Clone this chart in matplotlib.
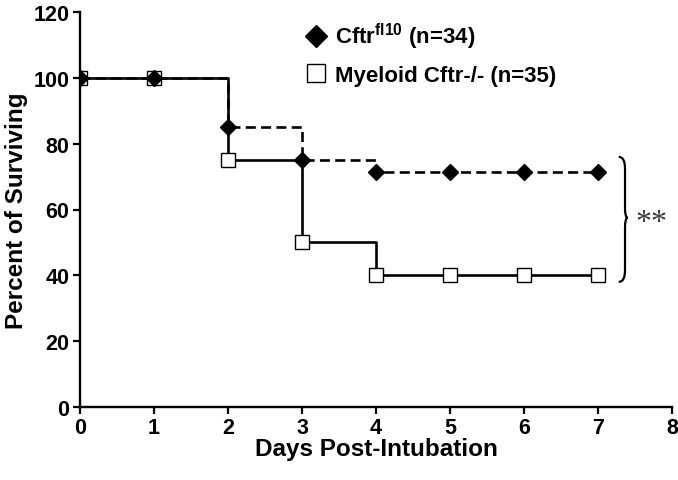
import matplotlib
matplotlib.use("Agg")
import matplotlib.pyplot as plt
from matplotlib.lines import Line2D
from matplotlib.path import Path
from matplotlib.patches import PathPatch

days = [0, 1, 2, 3, 4, 5, 6, 7]
ctrl = [100, 100, 85, 75, 71.5, 71.5, 71.5, 71.5]
myeloid = [100, 100, 75, 50, 40, 40, 40, 40]
xticks = [0, 1, 2, 3, 4, 5, 6, 7, 8]
yticks = [0, 20, 40, 60, 80, 100, 120]
label_ctrl = r'Cftr$^{\mathbf{fl10}}$ (n=34)'
label_mye = 'Myeloid Cftr-/- (n=35)'
sig_text = '**'

plt.rcParams['font.family'] = ['Liberation Sans', 'DejaVu Sans']
plt.rcParams['mathtext.fontset'] = 'custom'
plt.rcParams['mathtext.bf'] = 'Liberation Sans:bold'
plt.rcParams['mathtext.rm'] = 'Liberation Sans'

fig = plt.figure(figsize=(6.78, 4.81), dpi=100)
ax = fig.add_axes([80/678, 1-408/481, (672-80)/678, (408-13)/481])

ax.step(days, ctrl, where='post', color='black', lw=1.9, ls=(0, (3.8, 2.0)), zorder=2)
ax.step(days, myeloid, where='post', color='black', lw=1.9, ls='-', zorder=2)
ax.plot(days, myeloid, ls='none', marker='s', ms=10, mfc='white', mec='black', mew=1.0, zorder=3)
ax.plot(days, ctrl, ls='none', marker='D', ms=8.5, mfc='black', mec='black', zorder=4)

ax.set_xlim(0, 8)
ax.set_ylim(0, 120)
ax.set_xticks(xticks)
ax.set_yticks(yticks)
for s in ['top', 'right']:
    ax.spines[s].set_visible(False)
for s in ['left', 'bottom']:
    ax.spines[s].set_linewidth(1.7)
ax.tick_params(direction='out', length=5, width=1.6, labelsize=15.5, pad=2.5)
for t in ax.get_xticklabels() + ax.get_yticklabels():
    t.set_fontweight('bold')
ax.set_xlabel('Days Post-Intubation', fontsize=17.5, fontweight='bold', labelpad=-1)
ax.set_ylabel('Percent of Surviving', fontsize=17.5, fontweight='bold', labelpad=4)

handles = [
    Line2D([], [], ls='none', marker='D', ms=11, mfc='black', mec='black'),
    Line2D([], [], ls='none', marker='s', ms=12.5, mfc='white', mec='black', mew=1.0),
]
leg = ax.legend(handles, [label_ctrl, label_mye], loc='upper left',
                bbox_to_anchor=(218/592, 1.0), frameon=False,
                prop={'weight': 'bold', 'size': 16}, handlelength=0.8,
                handletextpad=0.45, labelspacing=0.62, borderaxespad=0.0)

# curly brace
x0, xm = 7.28, 7.40
y_top, y_bot = 76.0, 38.0
y_mid = 57.5
xb = x0 + 0.085
codes = [Path.MOVETO, Path.CURVE3, Path.CURVE3, Path.LINETO,
         Path.CURVE3, Path.CURVE3, Path.CURVE3, Path.CURVE3,
         Path.LINETO, Path.CURVE3, Path.CURVE3]
verts = [
    (x0, y_top), (xb, y_top), (xb, y_top - 3.5),
    (xb, y_mid + 3),
    (xb, y_mid), (xm, y_mid),
    (xb, y_mid), (xb, y_mid - 3),
    (xb, y_bot + 3.5),
    (xb, y_bot), (x0, y_bot),
]
ax.add_patch(PathPatch(Path(verts, codes), fill=False, lw=1.6, color='black', clip_on=False))
ax.text(7.72, 56.0, sig_text, fontsize=23, family='Liberation Serif', color='#3a3a3a',
        ha='center', va='center')

fig.savefig('out.png', dpi=100)
